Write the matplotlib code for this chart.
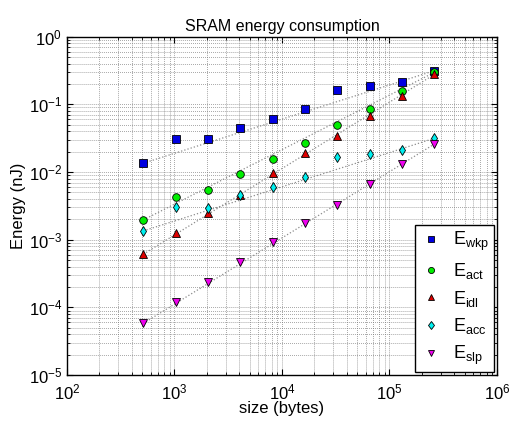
import numpy as np
import matplotlib
matplotlib.use('Agg')
import matplotlib.pyplot as plt

plt.rcParams['font.family'] = ['Liberation Sans', 'DejaVu Sans']
plt.rcParams['mathtext.fontset'] = 'custom'
plt.rcParams['mathtext.rm'] = 'Liberation Sans'
plt.rcParams['mathtext.it'] = 'Liberation Sans'
plt.rcParams['mathtext.bf'] = 'Liberation Sans:bold'

# memory sizes in bytes
sizes = [512, 1024, 2048, 4096, 8192, 16384, 32768, 65536, 131072, 262144]

# energies in nJ
e_wkp = [0.0135, 0.0308, 0.0305, 0.0448, 0.0608, 0.0846, 0.163, 0.187, 0.214, 0.315]
e_act = [0.00196, 0.00433, 0.00543, 0.00927, 0.0155, 0.0266, 0.049, 0.0855, 0.156, 0.298]
e_idl = [0.00061, 0.00127, 0.00246, 0.0046, 0.0096, 0.0189, 0.0341, 0.068, 0.134, 0.278]
e_acc = [0.00135, 0.00308, 0.00298, 0.00459, 0.00608, 0.0084, 0.0165, 0.0185, 0.0212, 0.0316]
e_slp = [5.8e-5, 1.22e-4, 2.4e-4, 4.75e-4, 9.2e-4, 0.00179, 0.00327, 0.0066, 0.013, 0.026]

series = [
    (e_wkp, 's', '#0000e0', r'$E_{wkp}$'),
    (e_act, 'o', '#00ee00', r'$E_{act}$'),
    (e_idl, '^', '#dd0000', r'$E_{idl}$'),
    (e_acc, 'd', '#00f0f0', r'$E_{acc}$'),
    (e_slp, 'v', '#ee00ee', r'$E_{slp}$'),
]

fig = plt.figure(figsize=(5.09, 4.21), dpi=100)
ax = fig.add_axes([0.1316, 0.109, 0.8448, 0.8038])

# dotted trend lines from first to last point of each series
for vals, m, c, lab in series:
    ax.plot([sizes[0], sizes[-1]], [vals[0], vals[-1]], ':', color='0.55',
            linewidth=0.9, zorder=2)

for vals, m, c, lab in series:
    ax.plot(sizes, vals, linestyle='none', marker=m, markersize=5.5,
            markerfacecolor=c, markeredgecolor='k', markeredgewidth=0.6,
            label=lab, zorder=3)

ax.set_xscale('log')
ax.set_yscale('log')
ax.set_xlim(1e2, 1e6)
ax.set_ylim(1e-5, 1e0)

ax.grid(True, which='both', linestyle=':', color='0.45', linewidth=0.55)
ax.tick_params(which='both', direction='in', top=True, right=True, labelsize=12)
ax.tick_params(axis='x', pad=5)
ax.tick_params(which='major', length=4)
ax.tick_params(which='minor', length=2)
for s in ax.spines.values():
    s.set_linewidth(1.0)

ax.set_title('SRAM energy consumption', fontsize=11.5, pad=4)
ax.set_xlabel('size (bytes)', fontsize=12, labelpad=-1)
ax.set_ylabel('Energy (nJ)', fontsize=12, labelpad=2)

leg = ax.legend(loc='lower right', fontsize=13, fancybox=False, framealpha=1,
                edgecolor='k', borderaxespad=0.15, handlelength=1.2,
                handletextpad=0.6, labelspacing=0.42, markerscale=0.8,
                borderpad=0.3)
leg.get_frame().set_linewidth(1.0)

fig.savefig('out.png', dpi=100)
